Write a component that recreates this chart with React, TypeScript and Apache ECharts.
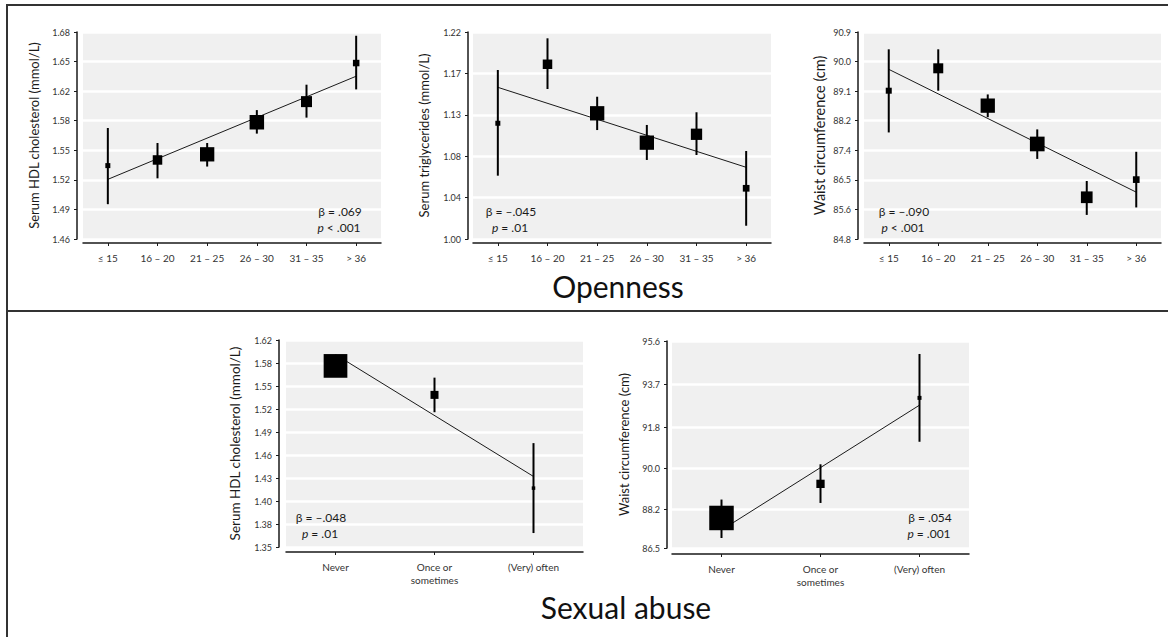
import { useEffect, useRef } from "react";
import * as echarts from "echarts";

// ---------- categories ----------
const opennessCategories = ["≤ 15", "16 – 20", "21 – 25", "26 – 30", "31 – 35", "> 36"];
const abuseCategories = ["Never", "Once or\nsometimes", "(Very) often"];

// ---------- panel 1: Openness vs HDL ----------
const hdlOpenMean = [1.538, 1.544, 1.55, 1.584, 1.606, 1.647];
const hdlOpenLow = [1.497, 1.5245, 1.537, 1.572, 1.589, 1.619];
const hdlOpenHigh = [1.578, 1.562, 1.562, 1.597, 1.624, 1.676];
const hdlOpenFit = [1.5234, 1.633];
const hdlOpenTickLabels = ["1.46", "1.49", "1.52", "1.55", "1.58", "1.62", "1.65", "1.68"];

// ---------- panel 2: Openness vs triglycerides ----------
const trigOpenMean = [1.123, 1.1857, 1.1336, 1.1024, 1.1113, 1.0539];
const trigOpenLow = [1.0673, 1.1594, 1.1158, 1.084, 1.0893, 1.0141];
const trigOpenHigh = [1.1796, 1.2133, 1.1512, 1.1212, 1.1347, 1.0935];
const trigOpenFit = [1.1612, 1.0762];
const trigOpenTickLabels = ["1.00", "1.04", "1.08", "1.13", "1.17", "1.22"];

// ---------- panel 3: Openness vs waist ----------
const waistOpenMean = [89.17, 89.83, 88.73, 87.6, 86.03, 86.55];
const waistOpenLow = [87.94, 89.17, 88.39, 87.16, 85.51, 85.73];
const waistOpenHigh = [90.39, 90.39, 89.06, 88.03, 86.51, 87.37];
const waistOpenFit = [89.8, 86.18];
const waistOpenTickLabels = ["84.8", "85.6", "86.5", "87.4", "88.2", "89.1", "90.0", "90.9"];

// ---------- panel 4: Sexual abuse vs HDL ----------
const hdlAbuseMean = [1.5862, 1.5484, 1.4268];
const hdlAbuseLow = [1.5795, 1.5258, 1.3682];
const hdlAbuseHigh = [1.5925, 1.5709, 1.4855];
const hdlAbuseFit = [1.601, 1.442];
const hdlAbuseTickLabels = ["1.35", "1.38", "1.40", "1.43", "1.46", "1.49", "1.52", "1.55", "1.58", "1.62"];

// ---------- panel 5: Sexual abuse vs waist ----------
const waistAbuseMean = [87.82, 89.32, 93.1];
const waistAbuseLow = [86.94, 88.48, 91.17];
const waistAbuseHigh = [88.63, 90.18, 95.03];
const waistAbuseFit = [87.29, 92.78];
const waistAbuseTickLabels = ["86.5", "88.2", "90.0", "91.8", "93.7", "95.6"];

const FONT = "Lato";
const INK = "#1a1a1a";

function evenTicks(min: number, max: number, n: number) {
  const out: number[] = [];
  for (let k = 0; k < n; k++) {
    out.push(k === 0 ? min : k === n - 1 ? max : Number((min + ((max - min) * k) / (n - 1)).toFixed(8)));
  }
  return out;
}

type Panel = {
  cats: string[];
  mean: number[];
  low: number[];
  high: number[];
  fit: number[];
  tickLabels: string[];
  ticks: number[];
  min: number;
  max: number;
  name: string;
  nameSize: number;
  grid: { left: number; top: number; width: number; height: number };
  yOffset: number;
  xOffset: number;
  nameGap: number;
  markerPx: number[];
  beta: string;
  pText: string;
  annot: [number, number];
};

const panels: Panel[] = [
  {
    cats: opennessCategories, mean: hdlOpenMean, low: hdlOpenLow, high: hdlOpenHigh, fit: hdlOpenFit,
    tickLabels: hdlOpenTickLabels, ticks: evenTicks(1.46, 1.68, 8), min: 1.46, max: 1.68,
    name: "Serum HDL cholesterol (mmol/L)", nameSize: 13,
    grid: { left: 83, top: 32, width: 298, height: 207 }, yOffset: 6, xOffset: 4, nameGap: 37,
    markerPx: [5, 9.5, 14.3, 14.5, 11, 6.5], beta: "β = .069", pText: " < .001", annot: [340, 211],
  },
  {
    cats: opennessCategories, mean: trigOpenMean, low: trigOpenLow, high: trigOpenHigh, fit: trigOpenFit,
    tickLabels: trigOpenTickLabels, ticks: evenTicks(1.0, 1.22, 6), min: 1.0, max: 1.22,
    name: "Serum triglycerides (mmol/L)", nameSize: 13,
    grid: { left: 473, top: 32, width: 298, height: 207 }, yOffset: 5, xOffset: 4, nameGap: 38,
    markerPx: [5, 9.5, 14.3, 14.3, 11.3, 6.7], beta: "β = –.045", pText: " = .01", annot: [511, 211],
  },
  {
    cats: opennessCategories, mean: waistOpenMean, low: waistOpenLow, high: waistOpenHigh, fit: waistOpenFit,
    tickLabels: waistOpenTickLabels, ticks: evenTicks(84.8, 90.9, 8), min: 84.8, max: 90.9,
    name: "Waist circumference (cm)", nameSize: 14.5,
    grid: { left: 864, top: 32, width: 297, height: 207 }, yOffset: 6, xOffset: 4, nameGap: 31,
    markerPx: [6, 10, 14.3, 14.7, 11.7, 6.7], beta: "β = –.090", pText: " < .001", annot: [904, 211],
  },
  {
    cats: abuseCategories, mean: hdlAbuseMean, low: hdlAbuseLow, high: hdlAbuseHigh, fit: hdlAbuseFit,
    tickLabels: hdlAbuseTickLabels, ticks: evenTicks(1.35, 1.62, 10), min: 1.35, max: 1.62,
    name: "Serum HDL cholesterol (mmol/L)", nameSize: 13.5,
    grid: { left: 286, top: 340, width: 297, height: 207 }, yOffset: 7, xOffset: 5, nameGap: 37,
    markerPx: [23.7, 8, 3.5], beta: "β = –.048", pText: " = .01", annot: [321, 517],
  },
  {
    cats: abuseCategories, mean: waistAbuseMean, low: waistAbuseLow, high: waistAbuseHigh, fit: waistAbuseFit,
    tickLabels: waistAbuseTickLabels, ticks: waistAbuseTickLabels.map(Number), min: 86.5, max: 95.6,
    name: "Waist circumference (cm)", nameSize: 13,
    grid: { left: 672, top: 341, width: 297, height: 207 }, yOffset: 5, xOffset: 6, nameGap: 37,
    markerPx: [24.5, 8.3, 4], beta: "β = .054", pText: " = .001", annot: [930, 517],
  },
];

export default function App() {
  const ref = useRef<HTMLDivElement>(null);
  useEffect(() => {
    if (!ref.current) return;
    const chart = echarts.init(ref.current, null, { renderer: "svg" });

    const grid: any[] = [];
    const xAxis: any[] = [];
    const yAxis: any[] = [];
    const series: any[] = [];
    const graphic: any[] = [];

    panels.forEach((p, i) => {
      grid.push({
        ...p.grid,
        show: true,
        backgroundColor: "#f0f0f0",
        borderWidth: 0,
        containLabel: false,
        outerBoundsMode: "none",
      });
      xAxis.push({
        gridIndex: i,
        type: "category",
        data: p.cats,
        offset: p.xOffset,
        axisLine: { show: true, lineStyle: { color: INK, width: 1.5 } },
        axisTick: { show: true, alignWithLabel: true, length: 3, lineStyle: { color: INK, width: 1 } },
        axisLabel: { interval: 0, fontSize: 10, color: "#333", margin: 9, fontFamily: FONT, lineHeight: 12.5 },
        splitLine: { show: false },
      });
      yAxis.push({
        gridIndex: i,
        type: "value",
        min: p.min,
        max: p.max,
        offset: p.yOffset,
        name: p.name,
        nameLocation: "middle",
        nameGap: p.nameGap,
        nameTextStyle: { fontSize: p.nameSize, color: INK, fontFamily: FONT },
        axisLine: { show: true, lineStyle: { color: INK, width: 1.5 } },
        axisTick: { show: true, length: 3, customValues: p.ticks, lineStyle: { color: INK, width: 1 } },
        axisLabel: {
          customValues: p.ticks,
          fontSize: 9,
          color: "#333",
          margin: 7,
          fontFamily: FONT,
          formatter: (v: number) => {
            let best = 0;
            p.ticks.forEach((t, k) => {
              if (Math.abs(t - v) < Math.abs(p.ticks[best] - v)) best = k;
            });
            return p.tickLabels[best];
          },
        },
        splitLine: { show: true, lineStyle: { color: "#ffffff", width: 2.5 } },
      });
      // regression line
      series.push({
        type: "line",
        xAxisIndex: i,
        yAxisIndex: i,
        data: [
          [0, p.fit[0]],
          [p.cats.length - 1, p.fit[1]],
        ],
        showSymbol: false,
        symbol: "none",
        lineStyle: { color: INK, width: 1 },
        silent: true,
        z: 3,
      });
      // error bars + squares
      series.push({
        type: "custom",
        xAxisIndex: i,
        yAxisIndex: i,
        z: 4,
        data: p.mean.map((m, k) => [k, m, p.low[k], p.high[k]]),
        renderItem: (params: any, api: any) => {
          const c = api.coord([api.value(0), api.value(1)]);
          const lo = api.coord([api.value(0), api.value(2)]);
          const hi = api.coord([api.value(0), api.value(3)]);
          const s = p.markerPx[params.dataIndex];
          return {
            type: "group",
            children: [
              {
                type: "line",
                shape: { x1: lo[0], y1: lo[1], x2: hi[0], y2: hi[1] },
                style: { stroke: "#000", lineWidth: 2 },
              },
              {
                type: "rect",
                shape: { x: c[0] - s / 2, y: c[1] - s / 2, width: s, height: s },
                style: { fill: "#000" },
              },
            ],
          };
        },
      });
      graphic.push({
        type: "text",
        x: p.annot[0],
        y: p.annot[1],
        z: 100,
        style: { text: p.beta, fontSize: 12, fontFamily: FONT, fill: INK, align: "center", verticalAlign: "middle" },
      });
      graphic.push({
        type: "text",
        x: p.annot[0] - 1,
        y: p.annot[1] + 16,
        z: 100,
        style: {
          text: "{i|p}" + p.pText,
          fontSize: 12,
          fontFamily: FONT,
          fill: INK,
          align: "center",
          verticalAlign: "middle",
          rich: { i: { fontStyle: "italic", fontSize: 12, fontFamily: FONT, fill: INK } },
        },
      });
    });

    // frame
    graphic.push(
      { type: "line", z: 100, shape: { x1: 6, y1: 5, x2: 1168, y2: 5 }, style: { stroke: "#333", lineWidth: 2 } },
      { type: "line", z: 100, shape: { x1: 7, y1: 4, x2: 7, y2: 637 }, style: { stroke: "#333", lineWidth: 2 } },
      { type: "line", z: 100, shape: { x1: 6, y1: 311, x2: 1168, y2: 311 }, style: { stroke: "#333", lineWidth: 2 } },
      {
        type: "text", x: 618, y: 286, z: 100,
        style: { text: "Openness", fontSize: 30, fontFamily: FONT, fill: "#111", align: "center", verticalAlign: "middle" },
      },
      {
        type: "text", x: 626, y: 607, z: 100,
        style: { text: "Sexual abuse", fontSize: 30, fontFamily: FONT, fill: "#111", align: "center", verticalAlign: "middle" },
      }
    );

    chart.setOption({
      animation: false,
      backgroundColor: "#ffffff",
      textStyle: { fontFamily: FONT },
      grid,
      xAxis,
      yAxis,
      series,
      graphic,
    });
    return () => chart.dispose();
  }, []);

  return (
    <div
      ref={ref}
      style={{ position: "absolute", left: 0, top: 0, width: 1168, height: 637, background: "#fff" }}
    />
  );
}
